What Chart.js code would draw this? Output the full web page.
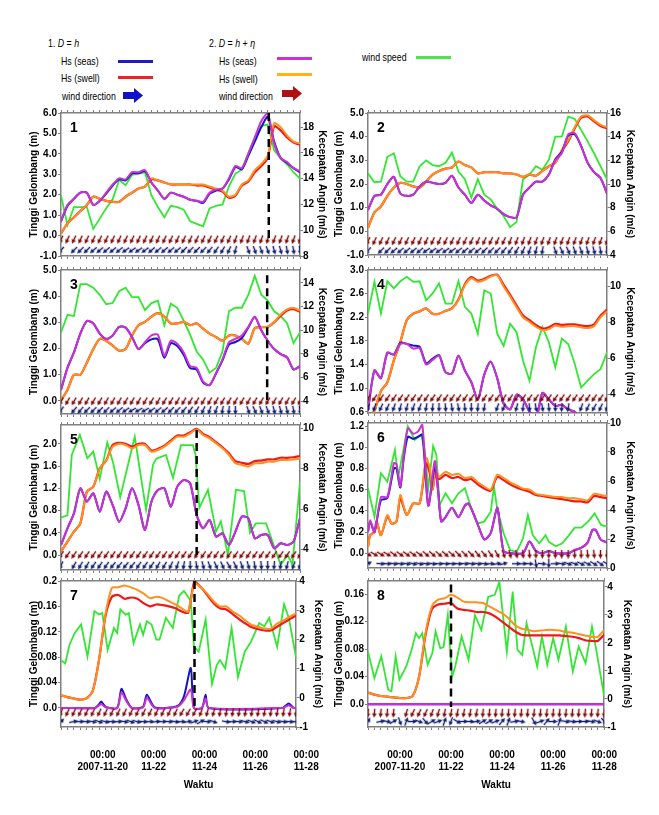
<!DOCTYPE html>
<html>
<head>
<meta charset="utf-8">
<script src="https://cdn.jsdelivr.net/npm/chart.js@4.4.1/dist/chart.umd.min.js"></script>
<style>
  body { margin: 0; background: #fff; }
  #page { position: relative; width: 659px; height: 815px; overflow: hidden; font-family: "Liberation Sans", Arial, sans-serif; }
  .lg { position: absolute; font-size: 11px; line-height: 12px; color: #000; white-space: nowrap; transform: scaleX(0.8); transform-origin: 0 0; }
  .bar { position: absolute; height: 3px; width: 35px; }
  canvas { position: absolute; }
</style>
</head>
<body>
<div id="page">
  <!-- legend -->
  <div class="lg" style="left:48px;top:37px">1. <i>D</i> = <i>h</i></div>
  <div class="lg" style="left:61px;top:55px">Hs (seas)</div>
  <div class="bar" style="left:118px;top:60px;background:#1c1cc4"></div>
  <div class="lg" style="left:61px;top:72px">Hs (swell)</div>
  <div class="bar" style="left:118px;top:76px;background:#ee2222"></div>
  <div class="lg" style="left:62px;top:90px">wind direction</div>
  <svg style="position:absolute;left:123px;top:88px" width="20" height="15"><polygon points="0,4 11,4 11,0 20,7.5 11,15 11,11 0,11" fill="#1010c8"/></svg>

  <div class="lg" style="left:209px;top:37px">2. <i>D</i> = <i>h</i> + <i>η</i></div>
  <div class="lg" style="left:219px;top:55px">Hs (seas)</div>
  <div class="bar" style="left:277px;top:57px;background:#cc33cc"></div>
  <div class="lg" style="left:219px;top:73px">Hs (swell)</div>
  <div class="bar" style="left:277px;top:73px;background:#ffb31a"></div>
  <div class="lg" style="left:219px;top:90px">wind direction</div>
  <svg style="position:absolute;left:282px;top:86px" width="20" height="15"><polygon points="0,4 11,4 11,0 20,7.5 11,15 11,11 0,11" fill="#b01010"/></svg>

  <div class="lg" style="left:362px;top:51px">wind speed</div>
  <div class="bar" style="left:416px;top:56px;background:#4ee44e"></div>
</div>
<script>
// ---- time grid (hours after 2007-11-18 00:00) ----
const hours6 = [18,24,30,36,42,48,54,60,66,72,78,84,90,96,102,108,114,120,126,132,138,144,150,156,162,168,174,180,186,192,198,204,210,216,222,228,234,240];
const xTickHours = [48, 96, 144, 192, 240];
const xTickLabels = [['00:00','2007-11-20'], ['00:00','11-22'], ['00:00','11-24'], ['00:00','11-26'], ['00:00','11-28']];

// ---- panel 1 ----
const p1SeasH   = [0.7,1.45,1.8,2.1,2.1,1.5,1.7,2.05,2.45,2.75,2.7,3.05,3.05,3.15,2.6,2.2,1.8,2.1,2.0,1.9,1.75,1.7,1.6,2.05,2.2,2.3,2.75,3.35,3.25,3.9,4.6,5.3,5.8,4.6,3.8,3.55,3.3,3.1];
const p1SeasHE  = [0.7,1.5,1.8,2.1,2.1,1.5,1.7,2.1,2.5,2.8,2.75,3.1,3.1,3.2,2.6,2.2,1.8,2.1,2.0,1.9,1.75,1.7,1.65,2.1,2.25,2.3,2.8,3.4,3.3,4.0,4.8,5.6,6.0,4.5,3.8,3.6,3.3,3.15];
const p1SwellH  = [0.1,0.6,0.9,1.2,1.5,1.9,1.8,1.7,1.65,1.65,1.9,2.1,2.3,2.4,2.75,2.7,2.6,2.5,2.5,2.5,2.5,2.45,2.45,2.35,2.25,2.15,1.85,1.95,2.45,2.65,3.1,3.4,3.8,5.35,5.15,4.8,4.55,4.45];
const p1SwellHE = [0.1,0.6,0.9,1.2,1.5,1.9,1.8,1.7,1.65,1.65,1.9,2.1,2.3,2.4,2.8,2.7,2.6,2.5,2.5,2.5,2.5,2.5,2.5,2.4,2.3,2.2,1.9,2.0,2.5,2.7,3.2,3.5,3.9,5.5,5.3,4.9,4.6,4.5];
const p1Wind    = [12.7,10.4,11.8,11.8,11.8,10.1,10.9,11.7,12.4,13.9,13.5,14.3,14.4,14.5,12.7,11.8,11.0,11.9,11.8,11.6,10.7,10.5,10.3,11.7,11.9,12.0,13.4,14.4,14.7,16.0,17.2,18.1,18.2,16.2,15.6,15.1,14.5,14.0];
const p1DirH    = [220,null,225,225,225,230,230,230,230,230,235,235,235,235,230,230,230,230,230,225,225,225,225,220,215,210,205,195,null,160,160,160,160,165,165,170,170,170];
const p1DirHE   = [205,205,205,205,205,205,205,205,205,205,205,205,205,205,205,205,205,205,205,205,205,205,205,205,205,205,205,200,200,200,200,200,195,200,200,200,200,200];
const p1ArrowLevel = [-0.2, -0.72];
const p1Dash = 211, p1DashY = [6.0, -0.2];
const p1LeftTicks = [-1,0,1,2,3,4,5,6], p1RightTicks = [8,10,12,14,16,18];

// ---- panel 2 ----
const p2SeasH   = [0.9,1.5,1.55,2.0,2.3,1.6,1.5,1.55,1.9,2.1,2.05,2.0,2.05,2.35,1.85,1.55,1.2,1.55,1.3,1.1,0.95,0.73,0.6,0.6,1.55,1.85,2.1,2.1,2.4,3.05,3.35,4.05,4.1,3.6,2.9,2.5,2.25,1.6];
const p2SeasHE  = [0.9,1.5,1.55,2.0,2.3,1.6,1.5,1.55,1.9,2.1,2.05,2.0,2.05,2.35,1.85,1.55,1.2,1.55,1.3,1.1,0.95,0.73,0.6,0.6,1.55,1.85,2.1,2.1,2.4,3.0,3.3,4.1,4.15,3.6,2.9,2.5,2.25,1.6];
const p2SwellH  = [0.15,0.8,1.05,1.5,1.85,2.05,2.0,1.9,1.85,2.1,2.4,2.55,2.65,2.7,2.95,2.8,2.7,2.45,2.5,2.5,2.5,2.45,2.45,2.4,2.3,2.4,2.35,2.55,2.75,2.9,3.4,3.8,4.35,4.8,4.85,4.65,4.45,4.35];
const p2SwellHE = [0.15,0.8,1.05,1.5,1.85,2.05,2.0,1.9,1.85,2.1,2.4,2.55,2.65,2.7,2.95,2.8,2.7,2.45,2.5,2.5,2.5,2.45,2.45,2.4,2.3,2.4,2.35,2.55,2.75,2.9,3.45,3.85,4.4,4.85,4.9,4.7,4.5,4.4];
const p2Wind    = [10.9,10.15,10.2,12.3,12.6,10.65,10.2,10.2,11.5,12.0,11.6,11.5,11.8,12.65,11.05,10.4,8.85,10.4,9.1,8.7,7.9,7.3,6.35,6.8,10.4,10.8,11.5,11.2,12.05,14.0,14.0,15.7,15.5,14.55,13.6,12.6,11.5,10.4];
const p2DirH    = [220,null,225,225,230,230,230,230,230,235,235,235,235,235,230,230,230,230,225,225,225,220,215,210,205,200,195,190,null,160,155,155,160,160,165,165,170,175];
const p2DirHE   = [205,205,205,205,205,205,205,205,205,205,205,205,205,205,205,205,205,205,205,205,205,205,200,200,200,200,200,200,200,200,200,200,200,200,200,200,200,200];
const p2ArrowLevel = [-0.42, -0.82];
const p2LeftTicks = [-1,0,1,2,3,4,5], p2RightTicks = [4,6,8,10,12,14,16];

// ---- panel 3 ----
const p3SeasH   = [0.42,1.26,1.85,2.57,3.05,2.96,2.57,2.37,2.5,2.83,2.8,2.44,1.98,2.2,2.35,2.35,1.65,2.2,2.1,1.75,1.25,1.2,0.7,0.6,1.05,1.55,2.15,2.25,2.4,2.8,3.2,2.7,2.3,1.98,1.79,1.66,1.2,1.33];
const p3SeasHE  = [0.42,1.26,1.85,2.57,3.05,2.96,2.57,2.37,2.5,2.83,2.8,2.44,1.98,2.24,2.5,2.53,1.72,2.3,2.18,1.85,1.33,1.26,0.74,0.61,1.07,1.59,2.24,2.37,2.5,2.83,3.22,2.7,2.3,1.98,1.79,1.66,1.2,1.33];
const p3SwellH  = [0.03,0.42,1.0,1.0,1.46,1.98,2.37,2.3,2.11,1.92,1.98,2.5,2.89,3.02,3.22,3.35,3.22,2.96,2.96,3.02,2.89,2.96,2.76,2.57,2.44,2.3,2.5,2.5,2.37,2.18,2.78,2.82,2.83,3.0,3.25,3.45,3.5,3.4];
const p3SwellHE = [0.03,0.42,1.0,1.0,1.46,1.98,2.37,2.3,2.11,1.92,1.98,2.5,2.89,3.02,3.22,3.35,3.22,2.96,2.96,3.02,2.89,2.96,2.76,2.57,2.44,2.3,2.5,2.5,2.37,2.18,2.78,2.82,2.83,3.02,3.3,3.5,3.55,3.45];
const p3Wind    = [9.8,11.3,11.2,13.9,13.9,13.6,13.0,12.2,12.3,13.3,13.6,12.8,12.8,11.7,12.3,12.5,10.4,12.25,11.9,10.8,9.6,8.2,7.5,6.4,6.8,8.2,11.6,11.9,11.9,13.0,14.6,13.0,12.5,11.6,11.2,10.6,8.9,9.8];
const p3DirH    = [215,null,220,220,225,225,225,225,230,230,235,240,240,240,235,230,230,225,225,220,215,210,205,200,200,190,185,180,null,160,155,160,160,165,165,165,170,170];
const p3DirHE   = [210,210,210,210,210,210,210,210,210,210,210,210,210,210,210,210,210,210,210,210,210,210,210,210,210,210,210,210,210,210,210,210,210,210,210,210,210,210];
const p3ArrowLevel = [-0.02, -0.36];
const p3Dash = 209.5, p3DashY = [4.8, 0.0];
const p3LeftTicks = [0,1,2,3,4,5], p3RightTicks = [4,6,8,10,12,14];

// ---- panel 4 ----
const p4SeasH   = [0.62,1.3,1.17,1.6,1.57,1.77,1.75,1.72,1.7,1.42,1.5,1.56,1.27,1.25,1.55,1.3,1.1,0.81,1.23,1.45,1.17,0.74,0.64,0.89,0.81,0.6,0.47,0.92,0.81,0.7,0.72,0.64,0.6,0.47,0.4,0.4,0.4,0.4];
const p4SeasHE  = [0.62,1.3,1.17,1.6,1.57,1.75,1.75,1.67,1.68,1.4,1.48,1.55,1.27,1.25,1.55,1.3,1.1,0.81,1.23,1.45,1.17,0.74,0.64,0.89,0.81,0.6,0.47,0.92,0.81,0.7,0.72,0.64,0.6,0.47,0.4,0.4,0.4,0.4];
const p4SwellH  = [0.45,0.62,0.95,1.1,1.47,1.78,2.15,2.26,2.3,2.35,2.26,2.26,2.31,2.35,2.5,2.76,2.88,2.82,2.85,2.9,2.92,2.75,2.58,2.4,2.23,2.15,2.07,2.01,2.03,2.09,2.07,2.08,2.08,2.06,2.05,2.08,2.23,2.33];
const p4SwellHE = [0.45,0.62,0.95,1.1,1.47,1.78,2.15,2.26,2.3,2.35,2.26,2.26,2.31,2.35,2.49,2.74,2.86,2.8,2.83,2.89,2.91,2.72,2.55,2.37,2.2,2.12,2.04,1.98,2.0,2.06,2.04,2.05,2.05,2.03,2.02,2.05,2.2,2.3];
const p4Wind    = [8.5,10.27,8.5,10.3,9.9,10.3,10.55,10.27,10.3,9.24,9.62,10.18,9.05,9.05,10.3,8.87,8.5,7.37,9.8,9.62,7.37,6.7,7.93,7.46,5.87,4.75,6.62,7.74,6.9,5.5,7.1,6.8,5.7,4.37,4.75,5.12,5.4,6.34];
const p4DirH    = [200,200,205,205,200,195,195,200,200,190,185,180,175,170,170,175,180,185,190,null,200,205,null,195,185,175,170,170,175,180,185,190,null,200,205,210,205,200];
const p4DirHE   = [215,215,215,215,215,215,215,215,215,215,215,215,215,215,215,215,215,215,215,215,215,215,215,215,215,215,215,215,215,215,215,215,215,215,215,215,215,215];
const p4ArrowLevel = [0.83, 0.67];
const p4LeftTicks = [0.6,1.0,1.4,1.8,2.2,2.6,3.0], p4RightTicks = [4,6,8,10];

// ---- panel 5 ----
const p5SeasH   = [0.18,0.48,0.75,1.2,0.96,1.11,0.78,1.14,0.9,0.6,0.84,1.2,0.9,0.45,0.96,1.17,1.2,0.87,1.23,1.35,1.29,0.72,0.48,0.63,0.33,0.39,0.18,0.42,0.69,0.66,0.3,0.36,0.36,0.12,0.21,0.18,0.24,0.66];
const p5SeasHE  = [0.18,0.48,0.75,1.2,0.96,1.11,0.78,1.14,0.9,0.6,0.84,1.2,0.9,0.45,0.96,1.17,1.2,0.87,1.23,1.35,1.29,0.72,0.48,0.63,0.33,0.39,0.18,0.42,0.69,0.66,0.3,0.36,0.36,0.12,0.21,0.18,0.24,0.66];
const p5SwellH  = [0.06,0.24,0.42,0.57,1.14,1.23,1.56,1.7,1.98,2.02,2.0,1.95,2.0,2.0,1.88,1.91,1.97,2.06,2.15,2.15,2.21,2.27,2.18,2.12,2.03,1.94,1.83,1.69,1.66,1.64,1.69,1.7,1.72,1.72,1.75,1.75,1.76,1.78];
const p5SwellHE = [0.06,0.24,0.42,0.57,1.14,1.23,1.56,1.7,1.95,2.0,1.98,1.92,1.98,1.98,1.86,1.89,1.95,2.04,2.13,2.13,2.19,2.26,2.16,2.1,2.01,1.92,1.8,1.65,1.62,1.59,1.65,1.65,1.68,1.68,1.71,1.71,1.72,1.74];
const p5WindTime = [18,24,28,35.5,42.5,48,54,61,66.5,73,86.5,97,103.5,106.5,115.5,122,129.5,140.5,143,146.5,154.5,162,166.5,173,180.5,188,193.5,199,208.5,216,222,228.5,233,240];
const p5Wind    = [5.6,5.7,8.68,9.67,8.52,8.84,7.5,9.3,8.27,6.6,9.58,5.97,8.2,8.5,8.68,7.55,9.17,9.17,8.68,6.07,6.96,4.9,5.4,3.75,6.96,6.9,4.84,5.3,5.3,4.16,3.26,3.75,3.26,7.37];
const p5DirH    = [205,null,210,210,210,215,215,215,220,220,220,220,215,215,215,210,210,205,200,190,180,170,165,160,155,155,150,155,160,165,170,175,180,185,190,195,200,200];
const p5DirHE   = [215,215,215,215,215,215,215,215,215,215,215,215,215,215,215,215,215,215,215,215,215,215,215,215,215,215,215,215,215,215,215,215,215,215,215,215,215,215];
const p5ArrowLevel = [0.0, -0.19];
const p5Dash = 144, p5DashY = [2.25, 0.0];
const p5LeftTicks = [0,0.4,0.8,1.2,1.6,2.0], p5RightTicks = [4,6,8,10];

// ---- panel 6 ----
const p6SeasTime = [18,20,24,30,36,42,44.5,48,51,55,60,64.5,68.5,74,80,83,86,90,96,102,108,111,114,120,126,132,138,141,144,150,162,168,174,180,186,192,204,210,216,222,226.5,229.5,234,240];
const p6SeasH   = [0.2,0.3,0.2,0.5,0.52,0.8,0.8,0.62,0.88,1.1,1.08,1.1,1.12,0.45,0.82,0.6,0.3,0.34,0.43,0.34,0.45,0.47,0.42,0.27,0.13,0.19,0.43,0.22,0.02,0,0,0.11,0.02,0,0.02,0,0,0.03,0.05,0.1,0.22,0.22,0.13,0.1];
const p6SeasHE  = [0.2,0.31,0.2,0.53,0.53,0.85,0.84,0.63,0.9,1.18,1.13,1.15,1.21,0.45,0.87,0.6,0.3,0.34,0.43,0.34,0.45,0.47,0.42,0.27,0.13,0.19,0.43,0.22,0.02,0,0,0.11,0.02,0,0.02,0,0,0.03,0.05,0.1,0.22,0.22,0.13,0.1];
const p6SwellTime = [18,20,24,26,30,36,40,44.5,48,54,60,66,72,75.5,78,81,84,90,96,102,108,114,120,126,132,138,144,150,156,162,168,174,180,186,192,198,204,210,216,222,228,234,240];
const p6SwellH  = [0.06,0.17,0.2,0.3,0.17,0.35,0.28,0.3,0.52,0.36,0.47,0.47,0.85,0.75,0.6,0.78,0.7,0.74,0.71,0.72,0.69,0.7,0.65,0.61,0.59,0.72,0.69,0.65,0.62,0.6,0.58,0.55,0.54,0.53,0.52,0.51,0.5,0.49,0.49,0.48,0.54,0.53,0.52];
const p6SwellHE = [0.06,0.17,0.2,0.3,0.17,0.36,0.28,0.3,0.55,0.36,0.47,0.47,0.9,0.8,0.6,0.8,0.72,0.77,0.74,0.75,0.71,0.72,0.67,0.63,0.6,0.74,0.71,0.67,0.64,0.61,0.6,0.56,0.55,0.54,0.53,0.53,0.52,0.52,0.51,0.5,0.56,0.55,0.54];
const p6WindTime = [18,24,30,36,43,46,55,61.5,67.5,70.5,74,78.5,81.5,84.5,90,96,102,108,114,120,126,132,135,138,144,150,156,162,166.5,171,177,183,186,192.5,198.5,204,210,216,222.5,228.5,234.5,240];
const p6Wind    = [5.5,3.54,6.53,5.95,8.14,6.25,9.77,8.83,9.2,8.2,5.5,8.4,7.8,4.35,5.15,4.46,5.15,5.5,4.1,3.08,3.2,3.88,5.6,4.1,2.39,1.24,1.1,2.05,3.65,2.27,1.7,2.27,1.8,1.5,1.7,2.2,2.78,2.78,3.2,3.77,2.97,2.85];
const p6DirH    = [60,null,95,95,100,100,100,105,105,100,100,95,95,95,95,95,100,100,100,90,80,75,null,90,90,95,170,95,180,90,100,110,110,115,115,120,125,120];
const p6DirHE   = [120,120,120,120,125,125,125,125,125,130,130,130,130,130,135,135,135,140,140,145,150,160,165,170,175,175,180,180,180,180,180,180,180,180,175,175,180,180];
const p6ArrowLevel = [-0.01, -0.1];
const p6LeftTicks = [0,0.2,0.4,0.6,0.8,1.0,1.2], p6RightTicks = [0,2,4,6,8,10];

// ---- panel 7 ----
const p7SeasTime = [18,50,54,56,60,71,75,80,85,95.5,99,106.5,128,134,140.5,143.5,151,154.5,157.5,227,233,237.5,240];
const p7SeasH   = [0,0,0.006,0.01,0.002,0,0.03,0.012,0,0.002,0.021,0.001,0.003,0.018,0.063,0,0,0.021,0,0,0.007,0,0];
const p7SeasHE  = [0,0,0.004,0.006,0.001,0,0.024,0.01,0,0.001,0.016,0,0.002,0.012,0.029,0,0,0.015,0,0,0.004,0,0];
const p7SwellH  = [0.02,0.017,0.015,0.013,0.015,0.027,0.077,0.145,0.175,0.178,0.172,0.174,0.172,0.165,0.16,0.163,0.162,0.16,0.157,0.152,0.15,0.2,0.19,0.178,0.165,0.157,0.155,0.148,0.14,0.133,0.127,0.124,0.122,0.122,0.128,0.134,0.14,0.146];
const p7SwellHE = [0.02,0.017,0.015,0.013,0.015,0.027,0.077,0.148,0.189,0.19,0.193,0.19,0.186,0.18,0.173,0.175,0.173,0.168,0.163,0.157,0.152,0.196,0.19,0.18,0.168,0.16,0.16,0.152,0.146,0.138,0.131,0.128,0.125,0.125,0.133,0.138,0.144,0.149];
const p7WindTime = [18,22,26,31,37,43,49.5,54,57,62,68,71,74,79,82,86.5,92.5,95.5,99,103.5,108,111,117,123.5,129.5,134,140.5,143.5,148,154.5,160.5,165,168,173,179,185,191.5,197.5,205,210,214.5,222,228.5,233,240];
const p7Wind    = [1.29,1.18,1.81,2.22,2.51,1.41,2.97,2.85,2.9,1.64,2.39,2.22,3.03,2.85,2.9,1.87,2.51,2.16,2.62,2.51,1.99,1.99,2.74,2.39,3.49,3.66,3.32,1.75,1.58,2.68,0.48,1.12,1.29,1.0,2.39,0.71,1.58,1.93,2.56,2.45,2.74,1.75,3.2,2.74,1.35];
const p7DirH    = [45,null,80,90,95,100,110,105,95,90,100,110,105,95,90,85,90,95,100,90,80,70,60,95,110,null,100,90,95,105,110,115,115,110,105,100,95,90];
const p7DirHE   = [200,205,205,205,205,205,205,205,205,205,205,205,205,205,205,205,205,205,205,210,210,210,200,195,195,190,190,190,190,190,190,190,190,190,190,190,190,190];
const p7ArrowLevel = [-0.0074, -0.0216];
const p7Dash = 144, p7DashY = [0.2, 0.0];
const p7LeftTicks = [0,0.04,0.08,0.12,0.16,0.2], p7RightTicks = [-1,0,1,2,3,4];

// ---- panel 8 ----
const p8SeasH   = [0,0,0,0,0,0,0,0,0,0,0,0,0,0,0,0,0,0,0,0,0,0,0,0,0,0,0,0,0,0,0,0,0,0,0,0,0,0];
const p8SeasHE  = [0,0,0,0,0,0,0,0,0,0,0,0,0,0,0,0,0,0,0,0,0,0,0,0,0,0,0,0,0,0,0,0,0,0,0,0,0,0];
const p8SwellH  = [0.017,0.014,0.012,0.011,0.01,0.009,0.009,0.012,0.04,0.1,0.138,0.145,0.146,0.147,0.139,0.137,0.136,0.134,0.134,0.132,0.127,0.12,0.113,0.106,0.101,0.1,0.1,0.1,0.1,0.1,0.1,0.099,0.098,0.096,0.093,0.092,0.092,0.101];
const p8SwellHE = [0.017,0.014,0.012,0.011,0.01,0.009,0.009,0.012,0.04,0.103,0.142,0.152,0.154,0.159,0.155,0.149,0.148,0.148,0.147,0.142,0.137,0.132,0.125,0.115,0.11,0.108,0.106,0.107,0.108,0.108,0.107,0.105,0.104,0.102,0.1,0.098,0.098,0.108];
const p8WindTime = [18,24,30.5,37,40,44,47.5,54,58.5,63,66,69,74,78.5,81.5,86,89,93,97,100,106,112.5,118.5,124.5,131,137,141.5,148.5,154,158.5,163,167,172.5,177,181.5,186.5,192,197,204,210.5,216,222.5,228.5,232.5,240];
const p8Wind    = [1.69,0.74,1.52,0.33,0.27,1.52,0.69,1.16,1.69,2.35,2.17,2.35,1.22,1.64,2.41,1.81,1.85,2.99,0.8,1.16,2.23,1.4,2.99,2.46,3.65,3.71,4.18,1.69,3.83,1.75,1.57,2.7,1.87,1.16,2.23,1.22,2.17,1.4,2.58,0.98,1.87,1.28,2.58,1.75,0.09];
const p8DirH    = [30,null,80,100,60,160,20,90,110,140,60,70,20,200,120,90,90,80,60,60,70,40,20,80,100,null,150,70,40,90,20,100,100,90,90,100,110,140];
const p8DirHE   = [185,185,185,185,185,null,195,205,205,205,200,195,190,190,190,190,190,190,185,185,185,185,185,185,185,185,185,185,185,185,185,185,185,185,185,185,185,185];
const p8ArrowLevel = [-0.013, -0.025];
const p8Dash = 96, p8DashY = [0.174, -0.004];
const p8LeftTicks = [0,0.04,0.08,0.12,0.16], p8RightTicks = [-1,0,1,2,3,4];

// ---- style ----
const FONT = '"Liberation Sans", Arial, sans-serif';
Chart.defaults.font.family = FONT;
Chart.defaults.font.size = 10;
Chart.defaults.font.weight = 'bold';
Chart.defaults.color = '#000';

const C_BLUE = '#1515c8', C_RED = '#f01818', C_MAG = '#cc30d0', C_ORANGE = '#ff8f1f', C_GREEN = '#33e633';
const AXIS_COLOR = '#808080';

function arrowImage(color) {
  const c = document.createElement('canvas');
  c.width = 5; c.height = 9;
  const g = c.getContext('2d');
  g.strokeStyle = color; g.fillStyle = color; g.lineWidth = 1.4;
  g.beginPath(); g.moveTo(2.5, 9); g.lineTo(2.5, 3.5); g.stroke();
  g.beginPath(); g.moveTo(0.2, 4.2); g.lineTo(2.5, 0); g.lineTo(4.8, 4.2); g.closePath(); g.fill();
  return c;
}
const arrowRed = arrowImage('#7e0a0a');
const arrowBlue = arrowImage('#121d70');

function lineSet(times, vals, color, axis, width, tension) {
  return {
    data: times.map((t, i) => ({ x: t, y: vals[i] })),
    borderColor: color, borderWidth: width, pointRadius: 0,
    tension: tension, yAxisID: axis, fill: false
  };
}
function arrowSet(dirs, level, img) {
  return {
    data: hours6.map((t, i) => ({ x: t, y: dirs[i] === null ? null : level })),
    showLine: false, pointStyle: img, pointRadius: 4,
    rotation: c => dirs[c.dataIndex] || 0, yAxisID: 'y'
  };
}
function dashSet(x, ys) {
  return {
    data: [{ x: x, y: ys[0] }, { x: x, y: ys[1] }],
    borderColor: '#000', borderWidth: 2.5, borderDash: [8, 5],
    pointRadius: 0, yAxisID: 'y'
  };
}
function fmtLeft(v) {
  if (Math.abs(v) < 1e-9) return '0.0';
  return Math.round(v * 100) % 10 !== 0 ? v.toFixed(2) : v.toFixed(1);
}

// panel number in the corner, and the "Waktu" caption under the bottom row
const panelText = {
  id: 'panelText',
  afterDraw(chart, args, o) {
    const { ctx, chartArea } = chart;
    ctx.save();
    ctx.fillStyle = '#000';
    ctx.textBaseline = 'middle';
    ctx.font = 'bold 14px ' + FONT;
    ctx.fillText(o.text, chartArea.left + 9, chartArea.top + 15);
    if (o.caption) {
      ctx.font = 'bold 10px ' + FONT;
      ctx.textAlign = 'center';
      ctx.fillText(o.caption, (chartArea.left + chartArea.right) / 2 + o.captionShift, o.captionY);
    }
    ctx.restore();
  }
};

// column geometry: canvas left, width, left axis width, right axis width, x label shift
const cols = {
  L: { left: 28, width: 300, lw: 33, rw: 28, shift: 10, capShift: 20 },
  R: { left: 333, width: 303, lw: 35, rw: 29, shift: 0, capShift: 10 }
};

function makePanel(p) {
  const col = cols[p.col];
  const canvasTop = p.top - 8;
  const canvasBottom = p.bottomRow ? 795 : p.bottom + 8;
  const cv = document.createElement('canvas');
  cv.width = col.width;
  cv.height = canvasBottom - canvasTop;
  cv.style.left = col.left + 'px';
  cv.style.top = canvasTop + 'px';
  document.getElementById('page').appendChild(cv);

  const datasets = [];
  if (p.dash !== undefined) datasets.push(dashSet(p.dash, p.dashY));
  datasets.push(arrowSet(p.dirHE, p.levels[0], arrowRed));
  datasets.push(arrowSet(p.dirH, p.levels[1], arrowBlue));
  datasets.push(lineSet(p.seasTime || hours6, p.seasHE, C_MAG, 'y', 2, 0.25));
  datasets.push(lineSet(p.seasTime || hours6, p.seasH, C_BLUE, 'y', 2, 0.25));
  datasets.push(lineSet(p.swellTime || hours6, p.swellHE, C_ORANGE, 'y', 2, 0.25));
  datasets.push(lineSet(p.swellTime || hours6, p.swellH, C_RED, 'y', 2.2, 0.25));
  datasets.push(lineSet(p.windTime || hours6, p.wind, C_GREEN, 'y2', 1.8, 0));

  const xGrid = { drawOnChartArea: false, tickLength: 3, color: AXIS_COLOR, lineWidth: 1 };
  const border = { color: AXIS_COLOR, width: 1.5 };

  new Chart(cv, {
    type: 'line',
    data: { datasets: datasets },
    plugins: [panelText],
    options: {
      responsive: false, animation: false, events: [],
      layout: { padding: { top: 8, left: 0, right: 0, bottom: 0 } },
      plugins: {
        legend: { display: false }, tooltip: { enabled: false },
        panelText: { text: p.num, caption: p.bottomRow ? 'Waktu' : '', captionShift: col.capShift, captionY: 785 - canvasTop }
      },
      scales: {
        x: {
          type: 'linear', position: 'bottom', min: 18, max: 240,
          afterBuildTicks: s => { s.ticks = hours6.map(v => ({ value: v })); },
          afterFit: s => { s.height = p.bottomRow ? 68 : 8; },
          ticks: {
            display: p.bottomRow, autoSkip: false, maxRotation: 0, padding: 19,
            labelOffset: col.shift,
            callback: v => { const k = xTickHours.indexOf(v); return k < 0 ? '' : xTickLabels[k]; }
          },
          grid: xGrid, border: border
        },
        xt: {
          type: 'linear', position: 'top', min: 18, max: 240,
          afterBuildTicks: s => { s.ticks = hours6.map(v => ({ value: v })); },
          afterFit: s => { s.height = 0; },
          ticks: { display: false },
          grid: xGrid, border: border
        },
        y: {
          position: 'left', min: p.leftRange[0], max: p.leftRange[1],
          afterBuildTicks: s => { s.ticks = p.leftTicks.map(v => ({ value: v })); },
          afterFit: s => { s.width = col.lw; },
          ticks: { padding: 1, callback: v => fmtLeft(v) },
          grid: { drawOnChartArea: false, tickLength: 3, color: AXIS_COLOR },
          border: border,
          title: { display: true, text: 'Tinggi Gelombang (m)', padding: 0, font: { size: 10, weight: 'bold' } }
        },
        y2: {
          position: 'right', min: p.rightRange[0], max: p.rightRange[1],
          afterBuildTicks: s => { s.ticks = p.rightTicks.map(v => ({ value: v })); },
          afterFit: s => { s.width = col.rw; },
          ticks: { padding: 0, callback: v => String(v) },
          grid: { drawOnChartArea: false, tickLength: 3, color: AXIS_COLOR },
          border: border,
          title: { display: true, text: 'Kecepatan Angin (m/s)', padding: 0, font: { size: 10, weight: 'bold' } }
        }
      }
    }
  });
}

makePanel({ num: '1', col: 'L', top: 113, bottom: 256, bottomRow: false,
  leftRange: [-1, 6], rightRange: [8, 19.1], leftTicks: p1LeftTicks, rightTicks: p1RightTicks,
  seasH: p1SeasH, seasHE: p1SeasHE, swellH: p1SwellH, swellHE: p1SwellHE, wind: p1Wind,
  dirH: p1DirH, dirHE: p1DirHE, levels: p1ArrowLevel, dash: p1Dash, dashY: p1DashY });
makePanel({ num: '2', col: 'R', top: 113, bottom: 255, bottomRow: false,
  leftRange: [-1, 5], rightRange: [4, 16], leftTicks: p2LeftTicks, rightTicks: p2RightTicks,
  seasH: p2SeasH, seasHE: p2SeasHE, swellH: p2SwellH, swellHE: p2SwellHE, wind: p2Wind,
  dirH: p2DirH, dirHE: p2DirHE, levels: p2ArrowLevel });
makePanel({ num: '3', col: 'L', top: 270, bottom: 414, bottomRow: false,
  leftRange: [-0.5, 5.0], rightRange: [2.9, 15.1], leftTicks: p3LeftTicks, rightTicks: p3RightTicks,
  seasH: p3SeasH, seasHE: p3SeasHE, swellH: p3SwellH, swellHE: p3SwellHE, wind: p3Wind,
  dirH: p3DirH, dirHE: p3DirHE, levels: p3ArrowLevel, dash: p3Dash, dashY: p3DashY });
makePanel({ num: '4', col: 'R', top: 270, bottom: 413, bottomRow: false,
  leftRange: [0.58, 3.0], rightRange: [2.95, 10.93], leftTicks: p4LeftTicks, rightTicks: p4RightTicks,
  seasH: p4SeasH, seasHE: p4SeasHE, swellH: p4SwellH, swellHE: p4SwellHE, wind: p4Wind,
  dirH: p4DirH, dirHE: p4DirHE, levels: p4ArrowLevel });
makePanel({ num: '5', col: 'L', top: 425, bottom: 570, bottomRow: false,
  leftRange: [-0.27, 2.34], rightRange: [3.0, 10.16], leftTicks: p5LeftTicks, rightTicks: p5RightTicks,
  seasH: p5SeasH, seasHE: p5SeasHE, swellH: p5SwellH, swellHE: p5SwellHE, wind: p5Wind, windTime: p5WindTime,
  dirH: p5DirH, dirHE: p5DirHE, levels: p5ArrowLevel, dash: p5Dash, dashY: p5DashY });
makePanel({ num: '6', col: 'R', top: 423, bottom: 568, bottomRow: false,
  leftRange: [-0.14, 1.23], rightRange: [0, 10], leftTicks: p6LeftTicks, rightTicks: p6RightTicks,
  seasH: p6SeasH, seasHE: p6SeasHE, seasTime: p6SeasTime, swellH: p6SwellH, swellHE: p6SwellHE, swellTime: p6SwellTime,
  wind: p6Wind, windTime: p6WindTime, dirH: p6DirH, dirHE: p6DirHE, levels: p6ArrowLevel });
makePanel({ num: '7', col: 'L', top: 581, bottom: 727, bottomRow: true,
  leftRange: [-0.03, 0.2], rightRange: [-1, 4], leftTicks: p7LeftTicks, rightTicks: p7RightTicks,
  seasH: p7SeasH, seasHE: p7SeasHE, seasTime: p7SeasTime, swellH: p7SwellH, swellHE: p7SwellHE,
  wind: p7Wind, windTime: p7WindTime, dirH: p7DirH, dirHE: p7DirHE, levels: p7ArrowLevel, dash: p7Dash, dashY: p7DashY });
makePanel({ num: '8', col: 'R', top: 581, bottom: 727, bottomRow: true,
  leftRange: [-0.033, 0.179], rightRange: [-1, 4.21], leftTicks: p8LeftTicks, rightTicks: p8RightTicks,
  seasH: p8SeasH, seasHE: p8SeasHE, swellH: p8SwellH, swellHE: p8SwellHE, wind: p8Wind, windTime: p8WindTime,
  dirH: p8DirH, dirHE: p8DirHE, levels: p8ArrowLevel, dash: p8Dash, dashY: p8DashY });
</script>
</body>
</html>
